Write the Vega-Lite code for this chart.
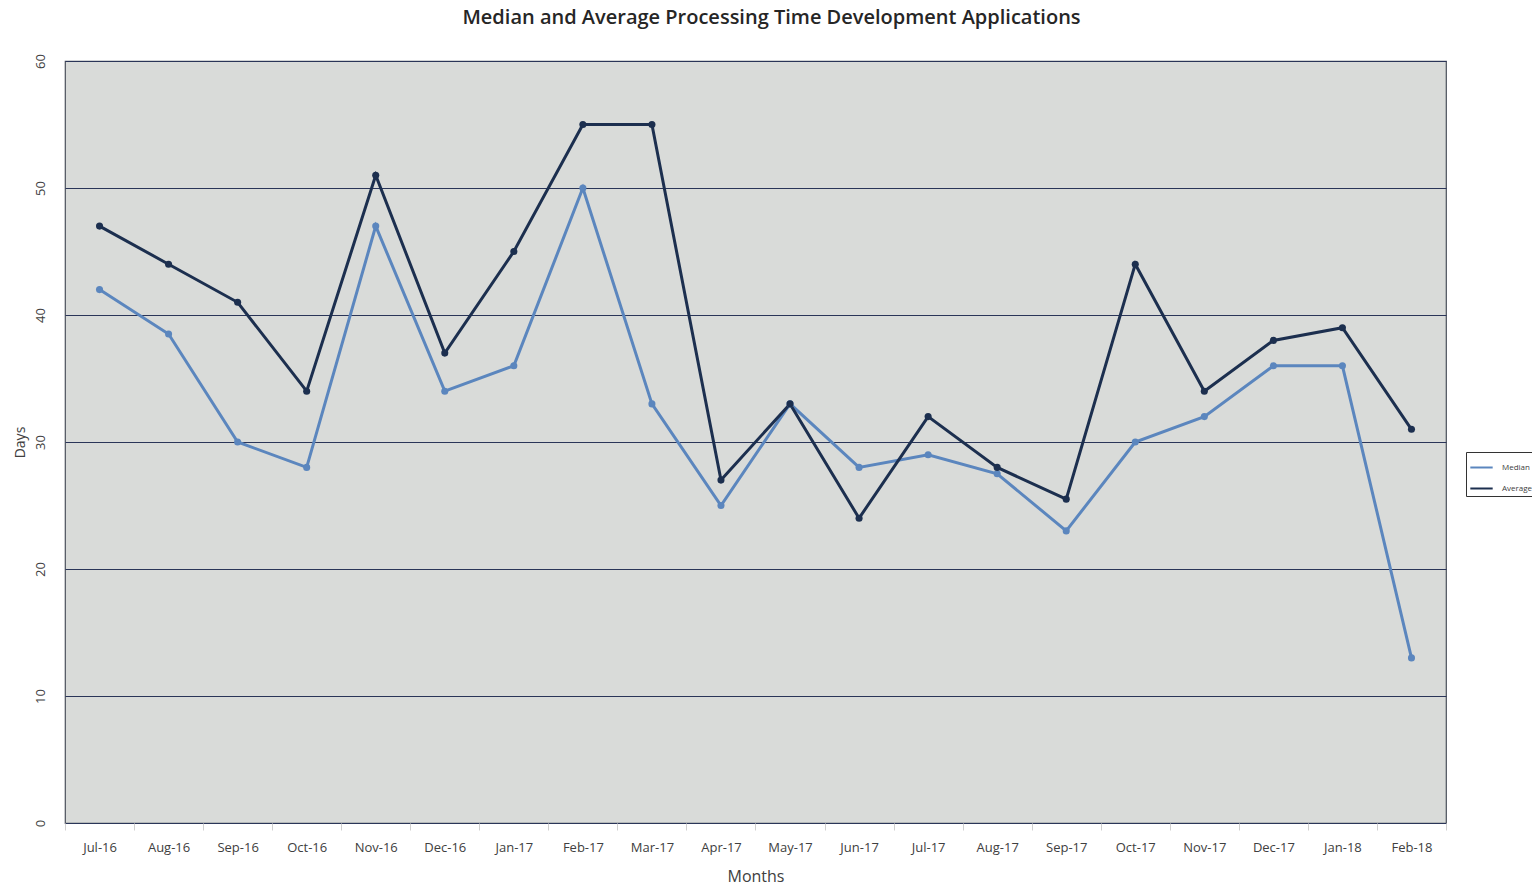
{
  "$schema": "https://vega.github.io/schema/vega-lite/v6.json",
  "width": 1381,
  "height": 762,
  "autosize": {"type": "none"},
  "padding": {"left": 65, "top": 61, "right": 86, "bottom": 64},
  "background": "white",
  "title": {
    "text": "Median and Average Processing Time Development Applications",
    "font": "Open Sans",
    "fontSize": 20,
    "fontWeight": 600,
    "color": "#262626",
    "anchor": "middle",
    "dx": 16,
    "offset": 26
  },
  "config": {
    "view": {"fill": "#D9DBD9", "stroke": "#4a4f5a", "strokeWidth": 1.2},
    "axis": {"labelFont": "Open Sans", "titleFont": "Open Sans"}
  },
  "data": {
    "values": [
      {"month": "Jul-16", "series": "Median", "days": 42},
      {"month": "Aug-16", "series": "Median", "days": 38.5},
      {"month": "Sep-16", "series": "Median", "days": 30},
      {"month": "Oct-16", "series": "Median", "days": 28},
      {"month": "Nov-16", "series": "Median", "days": 47},
      {"month": "Dec-16", "series": "Median", "days": 34},
      {"month": "Jan-17", "series": "Median", "days": 36},
      {"month": "Feb-17", "series": "Median", "days": 50},
      {"month": "Mar-17", "series": "Median", "days": 33},
      {"month": "Apr-17", "series": "Median", "days": 25},
      {"month": "May-17", "series": "Median", "days": 33},
      {"month": "Jun-17", "series": "Median", "days": 28},
      {"month": "Jul-17", "series": "Median", "days": 29},
      {"month": "Aug-17", "series": "Median", "days": 27.5},
      {"month": "Sep-17", "series": "Median", "days": 23},
      {"month": "Oct-17", "series": "Median", "days": 30},
      {"month": "Nov-17", "series": "Median", "days": 32},
      {"month": "Dec-17", "series": "Median", "days": 36},
      {"month": "Jan-18", "series": "Median", "days": 36},
      {"month": "Feb-18", "series": "Median", "days": 13},
      {"month": "Jul-16", "series": "Average", "days": 47},
      {"month": "Aug-16", "series": "Average", "days": 44},
      {"month": "Sep-16", "series": "Average", "days": 41},
      {"month": "Oct-16", "series": "Average", "days": 34},
      {"month": "Nov-16", "series": "Average", "days": 51},
      {"month": "Dec-16", "series": "Average", "days": 37},
      {"month": "Jan-17", "series": "Average", "days": 45},
      {"month": "Feb-17", "series": "Average", "days": 55},
      {"month": "Mar-17", "series": "Average", "days": 55},
      {"month": "Apr-17", "series": "Average", "days": 27},
      {"month": "May-17", "series": "Average", "days": 33},
      {"month": "Jun-17", "series": "Average", "days": 24},
      {"month": "Jul-17", "series": "Average", "days": 32},
      {"month": "Aug-17", "series": "Average", "days": 28},
      {"month": "Sep-17", "series": "Average", "days": 25.5},
      {"month": "Oct-17", "series": "Average", "days": 44},
      {"month": "Nov-17", "series": "Average", "days": 34},
      {"month": "Dec-17", "series": "Average", "days": 38},
      {"month": "Jan-18", "series": "Average", "days": 39},
      {"month": "Feb-18", "series": "Average", "days": 31}
    ]
  },
  "mark": {"type": "line", "strokeWidth": 3, "point": {"filled": true, "size": 50}},
  "encoding": {
    "x": {
      "field": "month",
      "type": "ordinal",
      "sort": null,
      "scale": {"type": "band", "paddingInner": 0, "paddingOuter": 0},
      "axis": {
        "title": "Months",
        "titleFontSize": 16,
        "titleFontWeight": "normal",
        "titleColor": "#404040",
        "titlePadding": 14,
        "labelAngle": 0,
        "labelFontSize": 13,
        "labelColor": "#404040",
        "labelPadding": 11,
        "tickBand": "extent",
        "tickColor": "#d0d0d0",
        "tickSize": 7,
        "domain": false,
        "grid": false
      }
    },
    "y": {
      "field": "days",
      "type": "quantitative",
      "scale": {"domain": [0, 60]},
      "axis": {
        "title": "Days",
        "titleFontSize": 14,
        "titleFontWeight": "normal",
        "titleColor": "#404040",
        "titlePadding": 7,
        "values": [0, 10, 20, 30, 40, 50, 60],
        "labelAngle": 270,
        "labelAlign": "center",
        "labelBaseline": "bottom",
        "labelFontSize": 13,
        "labelColor": "#404040",
        "labelPadding": 18,
        "ticks": false,
        "domain": false,
        "grid": true,
        "gridColor": "#2a3558",
        "gridWidth": 1,
        "gridOpacity": 1
      }
    },
    "color": {
      "field": "series",
      "type": "nominal",
      "sort": ["Median", "Average"],
      "scale": {"domain": ["Median", "Average"], "range": ["#5B86BE", "#1C2F4F"]},
      "legend": {
        "title": null,
        "orient": "none",
        "legendX": 1401,
        "legendY": 391,
        "direction": "vertical",
        "symbolType": "stroke",
        "symbolSize": 500,
        "symbolStrokeWidth": 2,
        "labelFontSize": 8,
        "labelFont": "Open Sans",
        "labelColor": "#404040",
        "labelOffset": 8,
        "rowPadding": 4,
        "padding": 3,
        "strokeColor": "#333333",
        "fillColor": "white"
      }
    }
  }
}
